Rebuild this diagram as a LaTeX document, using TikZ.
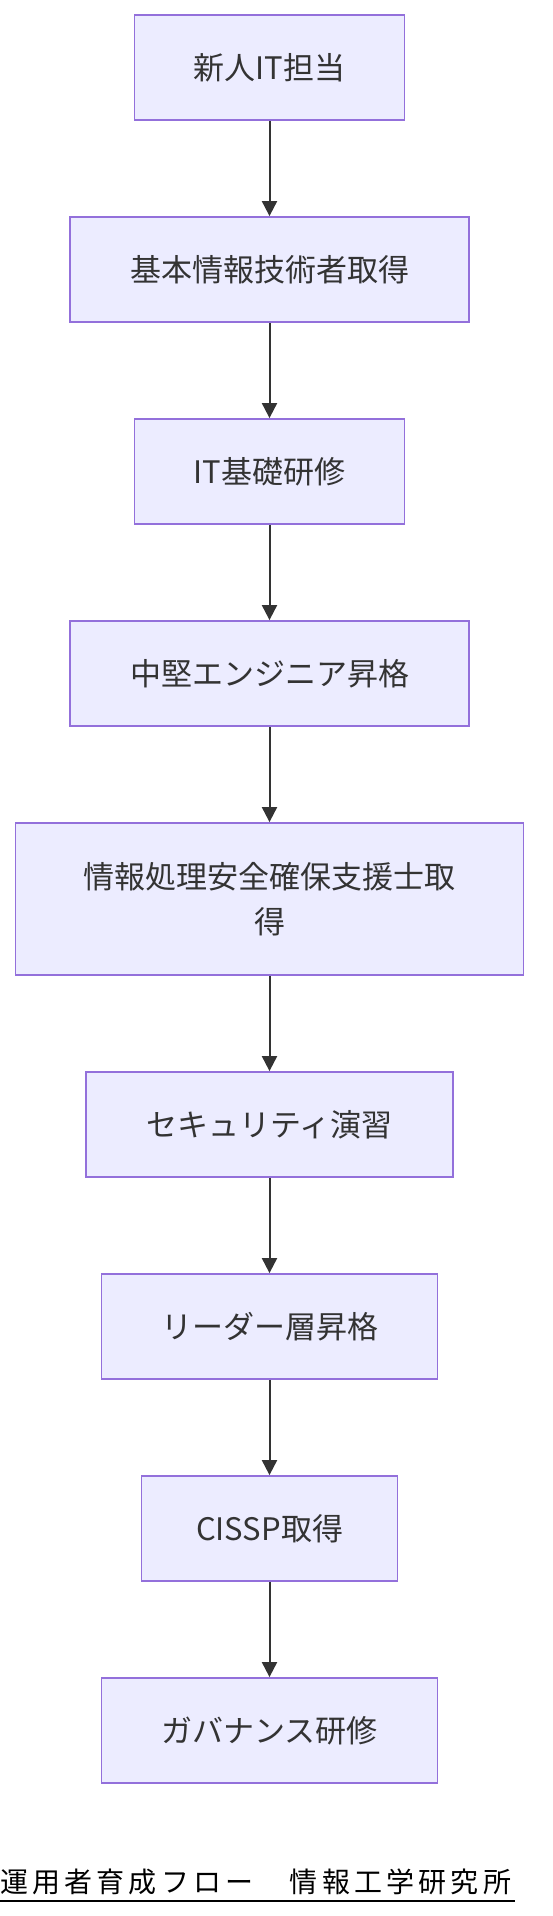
\documentclass[tikz,border=0pt]{standalone}
\usepackage{fontspec}
\setmainfont{Noto Sans CJK JP}
\newfontfamily\footfont[LetterSpace=15]{Noto Sans CJK JP}
\usetikzlibrary{arrows.meta}
\definecolor{nodefill}{HTML}{ECECFF}
\definecolor{nodeline}{HTML}{9370DB}
\definecolor{txt}{HTML}{333333}
\definecolor{edge}{HTML}{333333}
\tikzset{
  stepbox/.style={draw=nodeline, fill=nodefill, line width=1.8pt, inner sep=0pt,
    minimum height=105pt, text=txt, align=center,
    font=\fontsize{31}{45}\selectfont},
  flow/.style={draw=edge, line width=2pt, -{Triangle[length=15pt,width=15pt]}, shorten >=0pt}
}
\begin{document}
\begin{tikzpicture}[x=1pt,y=-1pt]
\useasboundingbox (0,0) rectangle (552,1916);
\fill[white] (0,0) rectangle (552,1916);
\node[stepbox, minimum width=270pt] (n1) at (269.5,67.5) {新人IT担当};
\node[stepbox, minimum width=399pt] (n2) at (269.5,269.5) {基本情報技術者取得};
\node[stepbox, minimum width=270pt] (n3) at (269.5,471.5) {IT基礎研修};
\node[stepbox, minimum width=399pt] (n4) at (269.5,673.5) {中堅エンジニア昇格};
\node[stepbox, minimum width=508pt, minimum height=152pt] (n5) at (269.5,899) {情報処理安全確保支援士取\\得};
\node[stepbox, minimum width=367pt] (n6) at (269.5,1124.5) {セキュリティ演習};
\node[stepbox, minimum width=336pt] (n7) at (269.5,1326.5) {リーダー層昇格};
\node[stepbox, minimum width=256pt] (n8) at (269.5,1528.5) {CISSP取得};
\node[stepbox, minimum width=336pt] (n9) at (269.5,1730.5) {ガバナンス研修};
\draw[flow] (n1) -- (n2);
\draw[flow] (n2) -- (n3);
\draw[flow] (n3) -- (n4);
\draw[flow] (n4) -- (n5);
\draw[flow] (n5) -- (n6);
\draw[flow] (n6) -- (n7);
\draw[flow] (n7) -- (n8);
\draw[flow] (n8) -- (n9);
\node[anchor=west, inner sep=0pt, font=\footfont\fontsize{28}{32}\selectfont, text=black] (foot) at (0,1882) {運用者育成フロー　情報工学研究所};
\coordinate (ulA) at (0,1901);
\coordinate (ulB) at (515,1901);
\draw[black, line width=2pt] (ulA) -- (ulB);
\end{tikzpicture}
\end{document}
